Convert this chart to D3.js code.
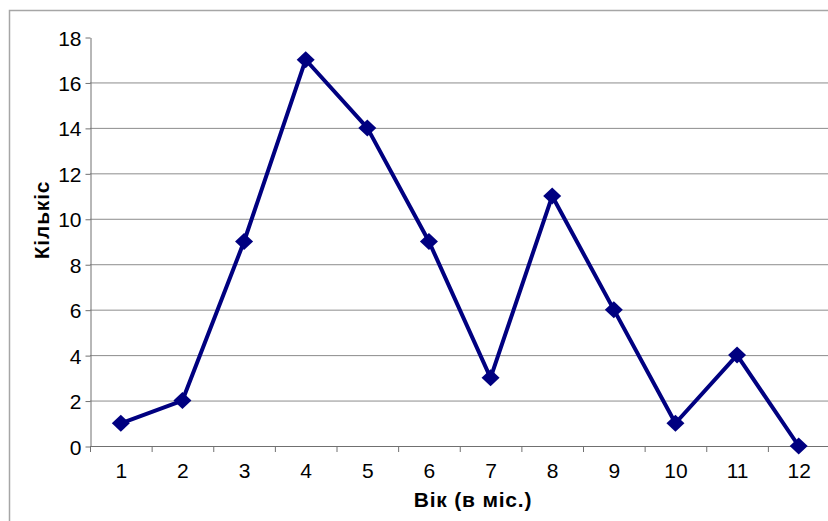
<!DOCTYPE html>
<html><head><meta charset="utf-8">
<script src="https://cdn.jsdelivr.net/npm/d3@7"></script>
<style>html,body{margin:0;padding:0;background:#fff;}svg{display:block;}</style>
</head><body>
<script>
const categories = ["1","2","3","4","5","6","7","8","9","10","11","12"];
const values = [1,2,9,17,14,9,3,11,6,1,4,0];
const yTicks = [0,2,4,6,8,10,12,14,16,18];
const xTitle = "Вік (в міс.)";
const yTitle = "Кількіс";

(function () {
const W = 828, H = 521;
const svg = d3.select("body").append("svg").attr("width", W).attr("height", H);
const font = "Arial, 'Liberation Sans', sans-serif";

// chart border (cropped on right/bottom)
svg.append("rect").attr("x", 9.5).attr("y", 10.5).attr("width", 840).attr("height", 540)
  .attr("fill", "#fff").attr("stroke", "#a6a6a6").attr("stroke-width", 1.5);

const pLeft = 90, pRight = 829.5, pTop = 37, pBottom = 446;
const x = d3.scaleBand().domain(categories).range([pLeft, pRight]).padding(0);
const y = d3.scaleLinear().domain([0, 18]).range([pBottom, pTop]);

// gridlines
svg.append("g").selectAll("line").data(yTicks.filter(t => t > 0 && t < 18)).join("line")
  .attr("x1", pLeft).attr("x2", W).attr("y1", d => y(d) + 0.5).attr("y2", d => y(d) + 0.5)
  .attr("stroke", "#8c8c8c").attr("stroke-width", 1);

// y axis
const yAxis = svg.append("g").attr("transform", `translate(${pLeft + 0.5},0.5)`)
  .call(d3.axisLeft(y).tickValues(yTicks).tickSize(5).tickSizeOuter(0).tickPadding(4));
yAxis.select(".domain").attr("stroke", "#707070");
yAxis.selectAll(".tick line").attr("stroke", "#707070");
yAxis.selectAll("text").attr("font-family", font).attr("font-size", 21).attr("fill", "#000")
  .attr("dy", "0.36em");

// x axis
const xAxis = svg.append("g").attr("transform", `translate(0.5,${pBottom + 0.5})`)
  .call(d3.axisBottom(x).tickSize(0).tickPadding(17));
xAxis.select(".domain").attr("stroke", "#707070").attr("d", `M${pLeft},0H${W}`);
xAxis.selectAll("text").attr("font-family", font).attr("font-size", 21).attr("fill", "#000");
// category boundary ticks
svg.append("g").selectAll("line").data(categories).join("line")
  .attr("x1", d => x(d) + 0.5).attr("x2", d => x(d) + 0.5)
  .attr("y1", pBottom).attr("y2", pBottom + 6)
  .attr("stroke", "#707070");

// line
const cx = d => x(d) + x.bandwidth() / 2;
const pts = categories.map((c, i) => [cx(c), y(values[i])]);
svg.append("path").datum(pts).attr("d", d3.line())
  .attr("fill", "none").attr("stroke", "#000080").attr("stroke-width", 4)
  .attr("stroke-linejoin", "round");

// diamond markers
svg.append("g").selectAll("path").data(pts).join("path")
  .attr("d", d => `M${d[0]},${d[1]-8.5}L${d[0]+9},${d[1]}L${d[0]},${d[1]+8.5}L${d[0]-9},${d[1]}Z`)
  .attr("fill", "#000080");

// titles
svg.append("text").attr("x", 473).attr("y", 507).attr("text-anchor", "middle")
  .attr("font-family", font).attr("font-weight", "bold").attr("font-size", 21)
  .attr("letter-spacing", 0.8).text(xTitle);
svg.append("text").attr("transform", "translate(49,220) rotate(-90)").attr("text-anchor", "middle")
  .attr("font-family", font).attr("font-weight", "bold").attr("font-size", 21)
  .attr("letter-spacing", 0.8).text(yTitle);
})();
</script>
</body></html>
